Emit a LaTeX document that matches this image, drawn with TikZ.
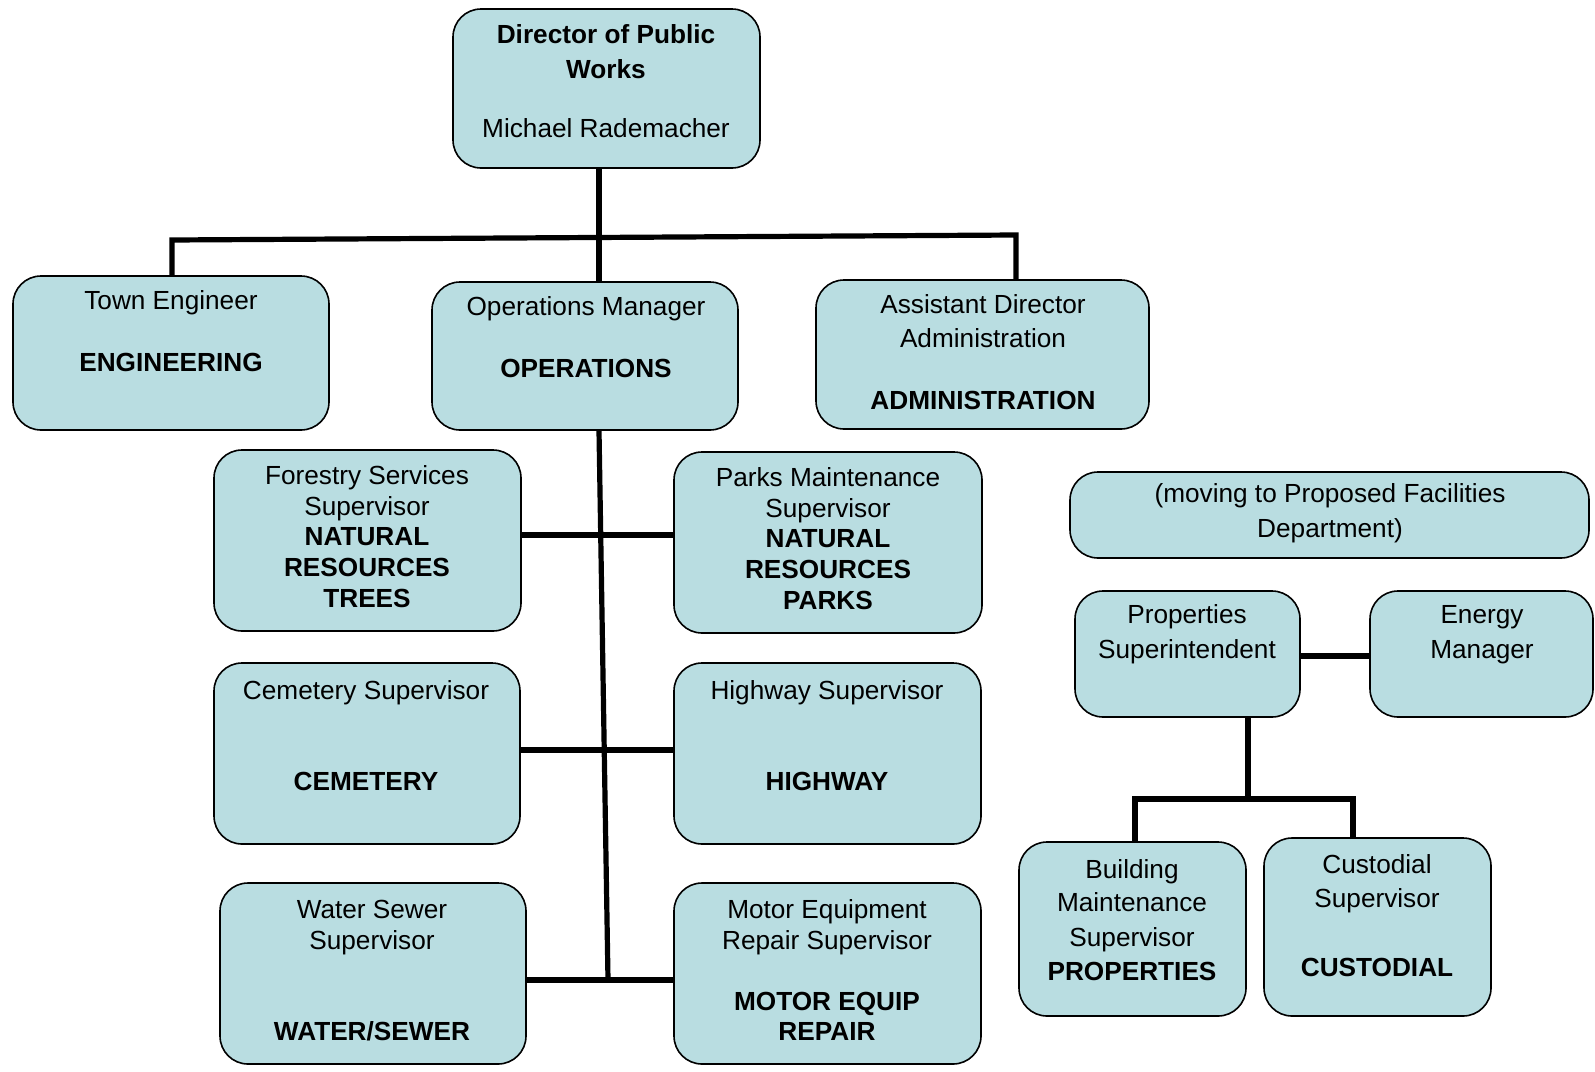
\documentclass[tikz,border=0pt]{standalone}
\usepackage{fontspec}
\setmainfont{Liberation Sans}
\usetikzlibrary{fit}
\definecolor{boxfill}{RGB}{185,221,225}
\begin{document}
\begin{tikzpicture}[x=1pt,y=-1pt,
  box/.style={draw=black, line width=1.6pt, fill=boxfill, rounded corners=28pt, inner sep=0pt},
  conn/.style={draw=black, line width=5.2pt},
  lbl/.style={font=\fontsize{26.2}{30}\selectfont, inner sep=0pt, text height=18.8pt, text depth=0pt},
  blbl/.style={lbl, font=\fontsize{26.2}{30}\selectfont\bfseries}]
\useasboundingbox (0,0) rectangle (1595,1071);
\fill[white] (0,0) rectangle (1595,1071);
% boxes
\node[box, fit={(453,9) (760,168)}] (dir) {};
\node[box, fit={(13,276) (329,430)}] (te) {};
\node[box, fit={(432,282) (738,430)}] (ops) {};
\node[box, fit={(816,280) (1149,429)}] (ad) {};
\node[box, fit={(214,450) (521,631)}] (fo) {};
\node[box, fit={(674,452) (982,633)}] (pa) {};
\node[box, fit={(1070,472) (1589,558)}] (mv) {};
\node[box, fit={(1075,591) (1300,717)}] (ps) {};
\node[box, fit={(1370,591) (1593,717)}] (en) {};
\node[box, fit={(214,663) (520,844)}] (ce) {};
\node[box, fit={(674,663) (981,844)}] (hw) {};
\node[box, fit={(220,883) (526,1064)}] (ws) {};
\node[box, fit={(674,883) (981,1064)}] (me) {};
\node[box, fit={(1019,842) (1246,1016)}] (bm) {};
\node[box, fit={(1264,838) (1491,1016)}] (cu) {};
% junction coordinates
\coordinate (tl) at (172,240);
\coordinate (tr) at (1016,235);
\coordinate (dv) at (599,240);
\coordinate (tb) at (608,980);
\coordinate (h1) at (0,535);
\coordinate (h2) at (0,750);
\coordinate (h3) at (0,980);
\coordinate (h4) at (0,656);
\coordinate (pv) at (1248,799);
\coordinate (bl) at (1135,799);
\coordinate (br) at (1353,799);
% connectors
\draw[conn] (te.north -| tl) -- (tl) -- (tr) -- (ad.north -| tr);
\draw[conn] (dir.south -| dv) -- (ops.north -| dv);
\draw[conn] (ops.south -| dv) -- (tb);
\draw[conn] (fo.east |- h1) -- (pa.west |- h1);
\draw[conn] (ce.east |- h2) -- (hw.west |- h2);
\draw[conn] (ws.east |- h3) -- (me.west |- h3);
\draw[conn] (ps.east |- h4) -- (en.west |- h4);
\draw[conn] (ps.south -| pv) -- (pv);
\draw[conn] (bm.north -| bl) -- (bl) -- (br) -- (cu.north -| br);
% labels
\node[blbl] (dir1) at (606,34) {Director of Public};
\node[blbl] (dir2) at (606,69) {Works};
\node[lbl] (dir3) at (606,128) {Michael Rademacher};
\node[lbl] (te1) at (171,300) {Town Engineer};
\node[blbl] (te2) at (171,362) {ENGINEERING};
\node[lbl] (ops1) at (586,306) {Operations Manager};
\node[blbl] (ops2) at (586,368) {OPERATIONS};
\node[lbl] (ad1) at (983,304) {Assistant Director};
\node[lbl] (ad2) at (983,338) {Administration};
\node[blbl] (ad3) at (983,400) {ADMINISTRATION};
\node[lbl] (fo1) at (367,475) {Forestry Services};
\node[lbl] (fo2) at (367,506) {Supervisor};
\node[blbl] (fo3) at (367,536) {NATURAL};
\node[blbl] (fo4) at (367,567) {RESOURCES};
\node[blbl] (fo5) at (367,598) {TREES};
\node[lbl] (pa1) at (828,477) {Parks Maintenance};
\node[lbl] (pa2) at (828,508) {Supervisor};
\node[blbl] (pa3) at (828,538) {NATURAL};
\node[blbl] (pa4) at (828,569) {RESOURCES};
\node[blbl] (pa5) at (828,600) {PARKS};
\node[lbl] (mv1) at (1330,493) {(moving to Proposed Facilities};
\node[lbl] (mv2) at (1330,528) {Department)};
\node[lbl] (ps1) at (1187,614) {Properties};
\node[lbl] (ps2) at (1187,649) {Superintendent};
\node[lbl] (en1) at (1482,614) {Energy};
\node[lbl] (en2) at (1482,649) {Manager};
\node[lbl] (ce1) at (366,690) {Cemetery Supervisor};
\node[blbl] (ce2) at (366,781) {CEMETERY};
\node[lbl] (hw1) at (827,690) {Highway Supervisor};
\node[blbl] (hw2) at (827,781) {HIGHWAY};
\node[lbl] (ws1) at (372,909) {Water Sewer};
\node[lbl] (ws2) at (372,940) {Supervisor};
\node[blbl] (ws3) at (372,1031) {WATER/SEWER};
\node[lbl] (me1) at (827,909) {Motor Equipment};
\node[lbl] (me2) at (827,940) {Repair Supervisor};
\node[blbl] (me3) at (827,1001) {MOTOR EQUIP};
\node[blbl] (me4) at (827,1031) {REPAIR};
\node[lbl] (bm1) at (1132,869) {Building};
\node[lbl] (bm2) at (1132,902) {Maintenance};
\node[lbl] (bm3) at (1132,937) {Supervisor};
\node[blbl] (bm4) at (1132,971) {PROPERTIES};
\node[lbl] (cu1) at (1377,864) {Custodial};
\node[lbl] (cu2) at (1377,898) {Supervisor};
\node[blbl] (cu3) at (1377,967) {CUSTODIAL};
\end{tikzpicture}
\end{document}
